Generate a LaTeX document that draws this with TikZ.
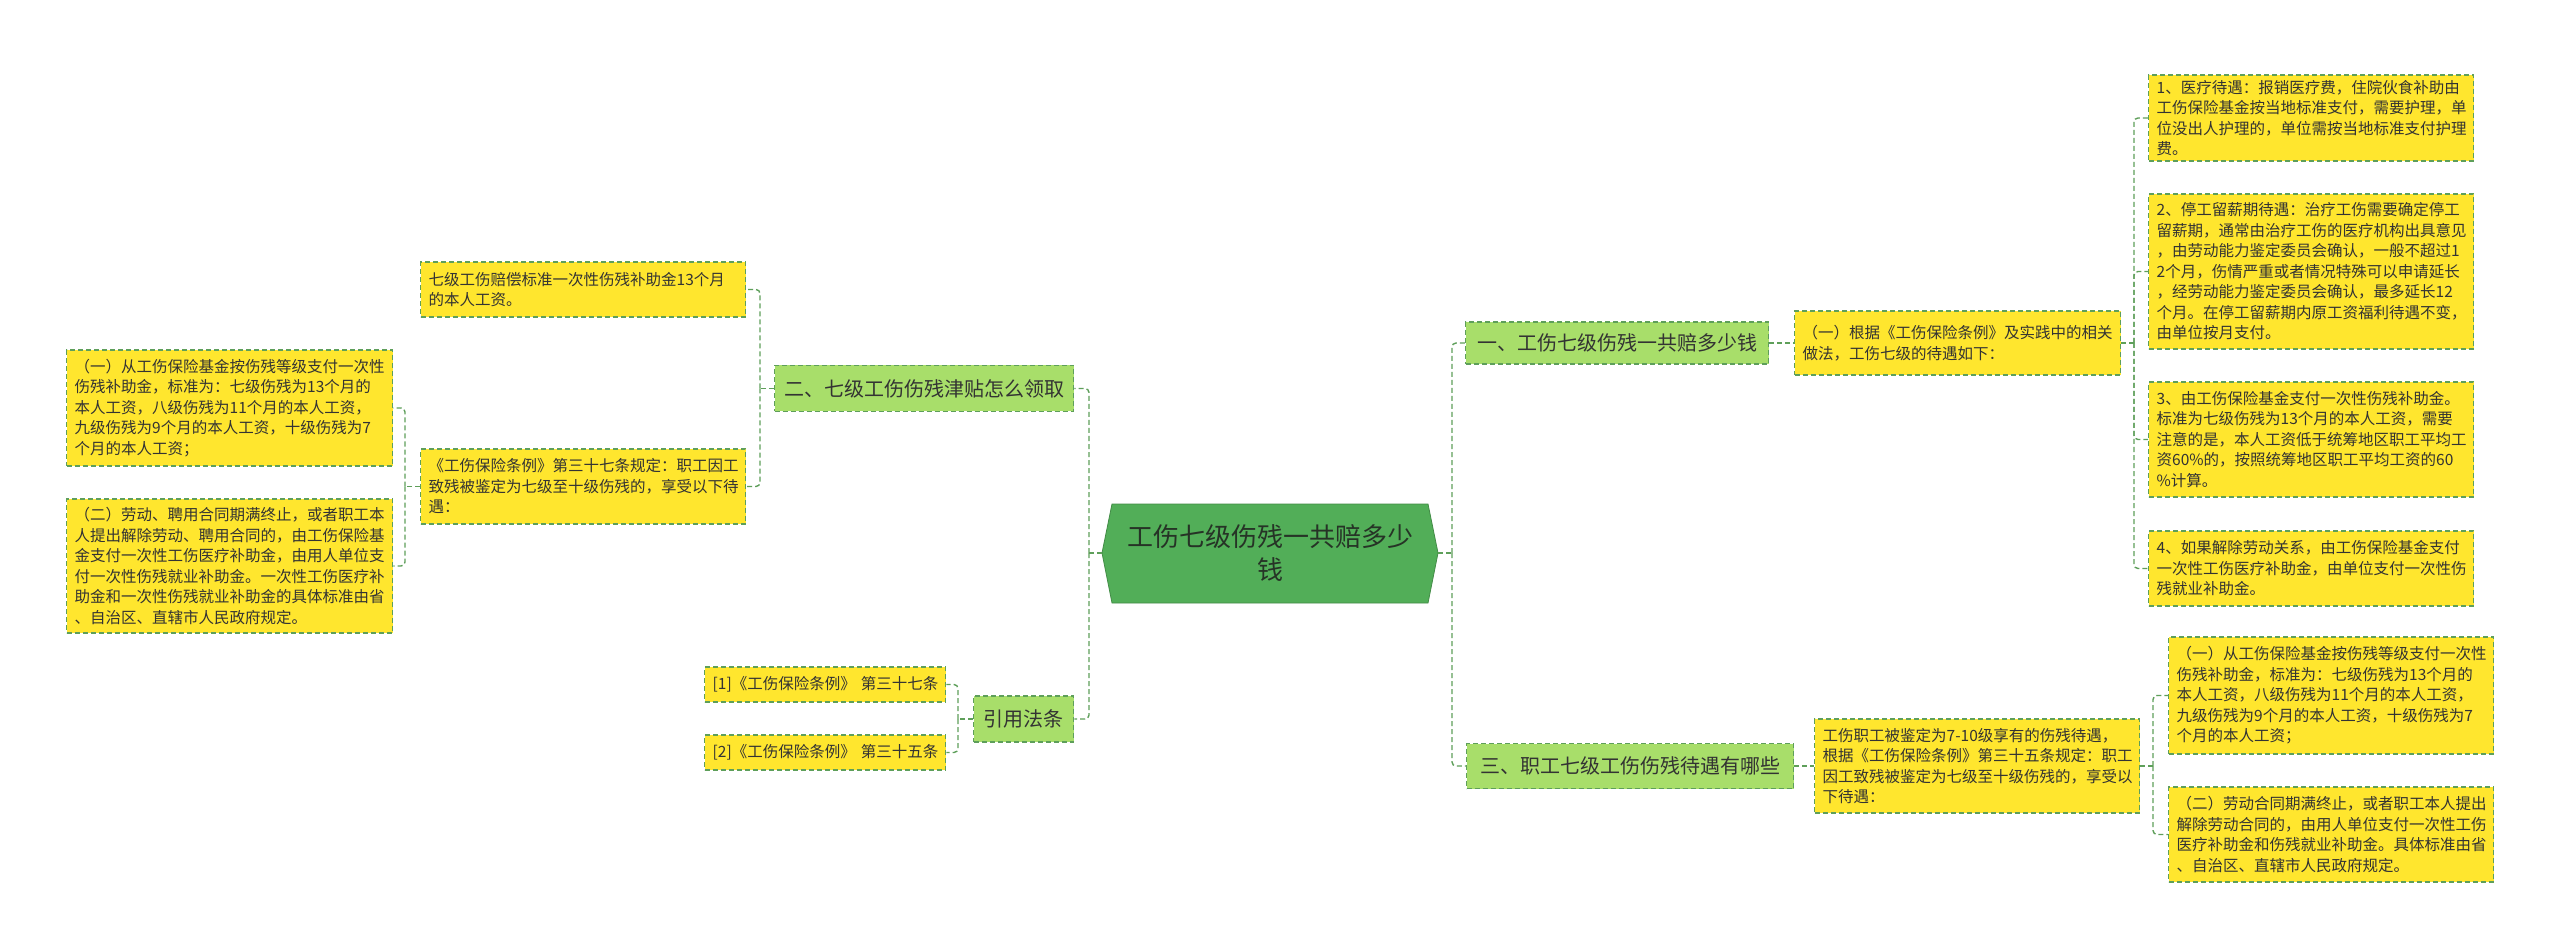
\documentclass[tikz,border=0pt]{standalone}
\usepackage{fontspec}
\newfontfamily\cjk{Noto Sans CJK SC}
\definecolor{rootg}{HTML}{52AE58}
\definecolor{brg}{HTML}{A8DE6A}
\definecolor{yel}{HTML}{FFE62E}
\definecolor{lineg}{HTML}{5E9F5A}
\definecolor{txt}{HTML}{333333}
\definecolor{roottxt}{HTML}{263326}
\begin{document}
\begin{tikzpicture}[x=1pt,y=-1pt,
  conn/.style={draw=lineg, line width=1.4, dash pattern=on 5pt off 3pt, rounded corners=4},
  box/.style={draw=lineg, line width=1.4, dash pattern=on 5pt off 3pt, text=txt, anchor=west, inner xsep=8, inner ysep=3},
  leaf/.style={box, fill=yel, font=\cjk\fontsize{15.5}{20.5}\selectfont, align=left},
  branch/.style={box, fill=brg, font=\cjk\fontsize{20}{24}\selectfont, align=center, inner xsep=2}]
\fill[white] (0,0) rectangle (2560,949);
\useasboundingbox (0,0) rectangle (2560,949);
% root
\fill[rootg] (1102,553) -- (1112,504) -- (1428,504) -- (1438,553) -- (1428,603) -- (1112,603) -- cycle;
\draw[rootg!80!black, line width=0.8] (1102,553) -- (1112,504) -- (1428,504) -- (1438,553) -- (1428,603) -- (1112,603) -- cycle;
\node[font=\cjk\fontsize{26}{33}\selectfont, text=roottxt, align=center, inner sep=0, minimum width=336, minimum height=99] (root) at (1270,553) {工伤七级伤残一共赔多少\\钱};
% right branches
\node[branch, text width=299, minimum height=42] (b1) at (1465,343) {一、工伤七级伤残一共赔多少钱};
\node[branch, text width=323, minimum height=45] (b3) at (1466,766) {三、职工七级工伤伤残待遇有哪些};
\node[leaf, text width=310, minimum height=64] (n1) at (1794,343) {（一）根据《工伤保险条例》及实践中的相关\\做法，工伤七级的待遇如下：};
\node[leaf, text width=309, minimum height=94] (n3) at (1814,766) {工伤职工被鉴定为7-10级享有的伤残待遇，\\根据《工伤保险条例》第三十五条规定：职工\\因工致残被鉴定为七级至十级伤残的，享受以\\下待遇：};
\node[leaf, text width=309, minimum height=86] (r1) at (2148,118) {1、医疗待遇：报销医疗费，住院伙食补助由\\工伤保险基金按当地标准支付，需要护理，单\\位没出人护理的，单位需按当地标准支付护理\\费。};
\node[leaf, text width=309, minimum height=155] (r2) at (2148,271.5) {2、停工留薪期待遇：治疗工伤需要确定停工\\留薪期，通常由治疗工伤的医疗机构出具意见\\，由劳动能力鉴定委员会确认，一般不超过1\\2个月，伤情严重或者情况特殊可以申请延长\\，经劳动能力鉴定委员会确认，最多延长12\\个月。在停工留薪期内原工资福利待遇不变，\\由单位按月支付。};
\node[leaf, text width=309, minimum height=115] (r3) at (2148,439.5) {3、由工伤保险基金支付一次性伤残补助金。\\标准为七级伤残为13个月的本人工资，需要\\注意的是，本人工资低于统筹地区职工平均工\\资60\%的，按照统筹地区职工平均工资的60\\\%计算。};
\node[leaf, text width=309, minimum height=75] (r4) at (2148,568.5) {4、如果解除劳动关系，由工伤保险基金支付\\一次性工伤医疗补助金，由单位支付一次性伤\\残就业补助金。};
\node[leaf, text width=309, minimum height=117] (rb1) at (2168,695.5) {（一）从工伤保险基金按伤残等级支付一次性\\伤残补助金，标准为：七级伤残为13个月的\\本人工资，八级伤残为11个月的本人工资，\\九级伤残为9个月的本人工资，十级伤残为7\\个月的本人工资；};
\node[leaf, text width=309, minimum height=95] (rb2) at (2168,834.5) {（二）劳动合同期满终止，或者职工本人提出\\解除劳动合同的，由用人单位支付一次性工伤\\医疗补助金和伤残就业补助金。具体标准由省\\、自治区、直辖市人民政府规定。};
% left branches
\node[branch, text width=295, minimum height=46] (b2) at (774,388.5) {二、七级工伤伤残津贴怎么领取};
\node[branch, text width=96, minimum height=46] (b4) at (973,719) {引用法条};
\node[leaf, text width=309, minimum height=55] (l1) at (420,289.5) {七级工伤赔偿标准一次性伤残补助金13个月\\的本人工资。};
\node[leaf, text width=309, minimum height=75] (l2) at (420,486.5) {《工伤保险条例》第三十七条规定：职工因工\\致残被鉴定为七级至十级伤残的，享受以下待\\遇：};
\node[leaf, text width=310, minimum height=116] (f1) at (66,408) {（一）从工伤保险基金按伤残等级支付一次性\\伤残补助金，标准为：七级伤残为13个月的\\本人工资，八级伤残为11个月的本人工资，\\九级伤残为9个月的本人工资，十级伤残为7\\个月的本人工资；};
\node[leaf, text width=310, minimum height=134] (f2) at (66,566) {（二）劳动、聘用合同期满终止，或者职工本\\人提出解除劳动、聘用合同的，由工伤保险基\\金支付一次性工伤医疗补助金，由用人单位支\\付一次性伤残就业补助金。一次性工伤医疗补\\助金和一次性伤残就业补助金的具体标准由省\\、自治区、直辖市人民政府规定。};
\node[leaf, text width=225, minimum height=35] (c1) at (704,684.5) {\mbox{[1]《工伤保险条例》~第三十七条}};
\node[leaf, text width=225, minimum height=35] (c2) at (704,752.5) {\mbox{[2]《工伤保险条例》~第三十五条}};
% junctions
\coordinate (rt) at (1452,553);
\coordinate (lt) at (1089,553);
\coordinate (j1) at (2134,343);
\coordinate (j3) at (2153,766);
\coordinate (j2) at (760,388.5);
\coordinate (j4) at (405,486.5);
\coordinate (j5) at (958,719);
% connectors
\draw[conn] (root.east) -- (rt);
\draw[conn] (rt) |- (b1.west);
\draw[conn] (rt) |- (b3.west);
\draw[conn] (b1.east) -- (n1.west);
\draw[conn] (b3.east) -- (n3.west);
\draw[conn] (n1.east) -- (j1);
\draw[conn] (j1) |- (r1.west);
\draw[conn] (j1) |- (r2.west);
\draw[conn] (j1) |- (r3.west);
\draw[conn] (j1) |- (r4.west);
\draw[conn] (n3.east) -- (j3);
\draw[conn] (j3) |- (rb1.west);
\draw[conn] (j3) |- (rb2.west);
\draw[conn] (root.west) -- (lt);
\draw[conn] (lt) |- (b2.east);
\draw[conn] (lt) |- (b4.east);
\draw[conn] (b2.west) -- (j2);
\draw[conn] (j2) |- (l1.east);
\draw[conn] (j2) |- (l2.east);
\draw[conn] (l2.west) -- (j4);
\draw[conn] (j4) |- (f1.east);
\draw[conn] (j4) |- (f2.east);
\draw[conn] (b4.west) -- (j5);
\draw[conn] (j5) |- (c1.east);
\draw[conn] (j5) |- (c2.east);
\end{tikzpicture}
\end{document}
